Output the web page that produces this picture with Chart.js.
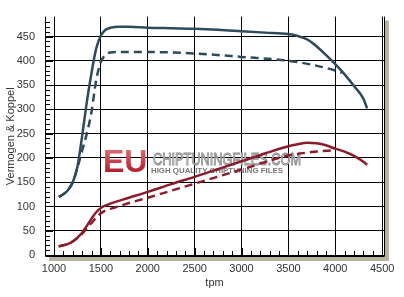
<!DOCTYPE html>
<html>
<head>
<meta charset="utf-8">
<script src="https://cdn.jsdelivr.net/npm/chart.js@4"></script>
<style>
  html, body { margin: 0; padding: 0; background: #fff; }
  #wrap { width: 404px; height: 297px; }
</style>
</head>
<body>
<div id="wrap"><canvas id="chart"></canvas></div>
<script>
const xTicks = [1000, 1500, 2000, 2500, 3000, 3500, 4000, 4500];
const yTicks = [0, 50, 100, 150, 200, 250, 300, 350, 400, 450];

const rpmPowerTuned = [1050,1100,1150,1200,1250,1300,1350,1400,1450,1500,1550,1600,1700,1800,2000,2250,2500,2750,3000,3250,3500,3600,3700,3800,3900,4000,4100,4200,4300,4340];
const powerTuned    = [120,125,134,150,182,245,315,375,425,452,464,468,470,470,468,467,466,464,461,458,455,451,444,430,412,393,372,348,322,302];

const rpmPowerStock = [1050,1100,1150,1200,1250,1300,1350,1400,1450,1500,1550,1600,1700,2000,2500,3000,3500,3750,4000,4070];
const powerStock    = [120,125,134,150,180,215,250,295,360,398,412,417,418,418,415,408,400,392,380,375];

const rpmTorqueTuned = [1050,1100,1150,1200,1250,1300,1350,1400,1450,1500,1550,1600,1800,2000,2250,2500,2750,3000,3250,3500,3600,3700,3800,3900,4000,4100,4200,4300,4340];
const torqueTuned    = [18,20,23,28,36,46,60,75,88,97,102,106,118,130,146,161,177,193,209,224,228,231,230,226,219,213,204,192,186];

const rpmTorqueStock = [1050,1100,1200,1300,1350,1400,1450,1500,1550,1600,1800,2000,2500,3000,3500,3750,4000];
const torqueStock    = [18,20,28,44,55,66,77,86,92,95,107,118,147,176,205,212,216];

const teal = '#2d4b5b';
const red = '#8a1c2b';

function pts(xs, ys) {
  return xs.map((x, i) => ({ x: x, y: ys[i] }));
}

// frame, shadow, inward minor ticks and the watermark
const decor = {
  id: 'decor',
  beforeDatasetsDraw(chart) {
    const { ctx, chartArea: a } = chart;
    ctx.save();
    const ex = a.left + 58, ey = a.top + 155;
    const g = ctx.createLinearGradient(0, ey - 24, 0, ey);
    g.addColorStop(0, '#e0707a');
    g.addColorStop(1, '#b3202e');
    ctx.font = 'bold 32px "Liberation Sans", Arial, sans-serif';
    ctx.fillStyle = g;
    ctx.textBaseline = 'alphabetic';
    ctx.fillText('EU', ex, ey);
    ctx.font = '17px "Liberation Sans", Arial, sans-serif';
    let w = ctx.measureText('CHIPTUNINGFILES.COM').width;
    ctx.save();
    ctx.translate(ex + 50, ey - 7);
    ctx.scale(148 / w, 1);
    ctx.fillStyle = '#e6e6e6';
    ctx.strokeStyle = '#8c8c8c';
    ctx.lineWidth = 1;
    ctx.fillText('CHIPTUNINGFILES.COM', 0, 0);
    ctx.strokeText('CHIPTUNINGFILES.COM', 0, 0);
    ctx.restore();
    ctx.font = 'bold 7px "Liberation Sans", Arial, sans-serif';
    w = ctx.measureText('HIGH QUALITY CHIPTUNING FILES').width;
    ctx.save();
    ctx.translate(ex + 48, ey + 1);
    ctx.scale(132 / w, 1);
    ctx.fillStyle = '#777';
    ctx.fillText('HIGH QUALITY CHIPTUNING FILES', 0, 0);
    ctx.restore();
    ctx.restore();
  },
  afterDraw(chart) {
    const { ctx, chartArea: a, scales } = chart;
    const xs = scales.x, ys = scales.y;
    ctx.save();
    ctx.fillStyle = '#b9b29e';
    ctx.fillRect(a.right + 1, a.top + 4, 4, a.bottom - a.top);
    ctx.fillRect(a.left + 4, a.bottom + 1, a.right - a.left + 1, 4);
    ctx.strokeStyle = '#000';
    ctx.lineWidth = 1;
    const l = Math.round(a.left) + 0.5, r = Math.round(a.right) + 0.5, b = Math.round(a.bottom) + 0.5;
    ctx.beginPath();
    ctx.moveTo(l, a.top);
    ctx.lineTo(l, b);
    ctx.lineTo(r, b);
    ctx.lineTo(r, a.top);
    for (let v = 1000; v <= 4500; v += 100) {
      const px = Math.round(xs.getPixelForValue(v)) + 0.5;
      const len = v % 500 === 0 ? 8 : 5;
      ctx.moveTo(px, a.bottom);
      ctx.lineTo(px, a.bottom - len);
    }
    for (let v = 0; v <= 480; v += 10) {
      const py = Math.round(ys.getPixelForValue(v)) + 0.5;
      const len = v % 50 === 0 ? 8 : 5;
      ctx.moveTo(a.left, py);
      ctx.lineTo(a.left + len, py);
    }
    ctx.stroke();
    ctx.restore();
  }
};

const font = { family: '"Liberation Sans", Arial, sans-serif', size: 11 };

new Chart(document.getElementById('chart'), {
  type: 'line',
  data: {
    datasets: [
      { label: 'Vermogen tuned', data: pts(rpmPowerTuned, powerTuned), borderColor: teal, borderWidth: 2.5 },
      { label: 'Vermogen stock', data: pts(rpmPowerStock, powerStock), borderColor: teal, borderWidth: 2.5, borderDash: [8, 5] },
      { label: 'Koppel tuned', data: pts(rpmTorqueTuned, torqueTuned), borderColor: red, borderWidth: 2.5 },
      { label: 'Koppel stock', data: pts(rpmTorqueStock, torqueStock), borderColor: red, borderWidth: 2.5, borderDash: [8, 5] }
    ]
  },
  options: {
    responsive: true,
    maintainAspectRatio: false,
    animation: false,
    parsing: false,
    layout: { padding: { top: 2, right: 20, left: 0, bottom: 3 } },
    elements: {
      point: { radius: 0 },
      line: { tension: 0.4, cubicInterpolationMode: 'monotone', fill: false, borderCapStyle: 'butt' }
    },
    plugins: { legend: { display: false }, tooltip: { enabled: false } },
    scales: {
      x: {
        type: 'linear',
        min: 904,
        max: 4520,
        afterBuildTicks: s => { s.ticks = xTicks.map(v => ({ value: v })); },
        afterFit: s => { s.height = 38; },
        grid: { color: '#000', drawTicks: false, lineWidth: 1 },
        border: { display: false },
        ticks: { font: font, color: '#333', padding: 6, maxRotation: 0, autoSkip: false, callback: v => String(v) },
        title: { display: true, text: 'tpm', font: font, color: '#333', padding: { top: 2, bottom: 4 } }
      },
      y: {
        type: 'linear',
        min: -2,
        max: 491,
        afterBuildTicks: s => { s.ticks = yTicks.map(v => ({ value: v })); },
        afterFit: s => { s.width = 45; },
        grid: { color: '#000', drawTicks: false, lineWidth: 1 },
        border: { display: false },
        ticks: { font: font, color: '#333', padding: 10, autoSkip: false, callback: v => String(v) },
        title: { display: true, text: 'Vermogen & Koppel', font: font, color: '#333', padding: { top: 4, bottom: 4 } }
      }
    }
  },
  plugins: [decor]
});
</script>
</body>
</html>
